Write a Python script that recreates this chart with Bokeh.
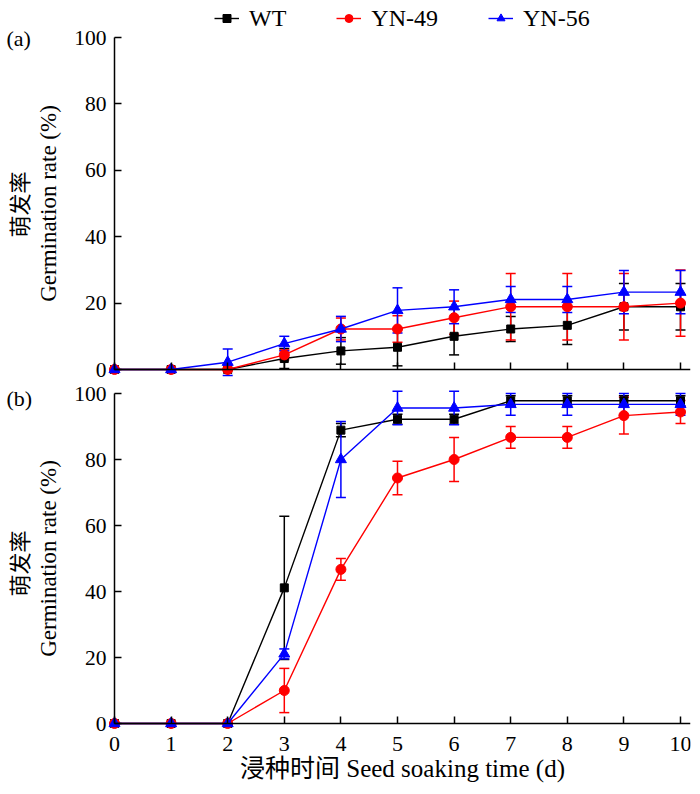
import math
from bokeh.plotting import figure
from bokeh.models import (Range1d, FixedTicker, Legend, LegendItem, Whisker,
                          ColumnDataSource, Label, TeeHead)
from bokeh.layouts import column
from bokeh.embed import file_html
from bokeh.resources import INLINE

# ---------------- data ----------------
days = [0, 1, 2, 3, 4, 5, 6, 7, 8, 9, 10]
series_names = ["WT", "YN-49", "YN-56"]

# (a)
wt_a = [0, 0, 0, 3.3, 5.6, 6.7, 10.0, 12.2, 13.3, 18.9, 18.9]
wt_a_err = [0, 0, 0, 3.0, 4.0, 5.6, 5.6, 3.8, 5.8, 7.0, 7.0]
y49_a = [0, 0, 0, 4.4, 12.2, 12.2, 15.6, 18.9, 18.9, 18.9, 20.0]
y49_a_err = [0, 0, 0, 1.5, 3.3, 4.0, 5.0, 10.0, 10.0, 10.0, 10.0]
y56_a = [0, 0, 2.2, 7.8, 12.2, 17.8, 18.9, 21.1, 21.1, 23.3, 23.3]
y56_a_err = [0, 0, 4.0, 2.2, 3.8, 6.8, 5.1, 3.9, 3.9, 6.5, 6.5]

# (b)
wt_b = [0, 0, 0, 41.1, 88.9, 92.2, 92.2, 97.8, 97.8, 97.8, 97.8]
wt_b_err = [0, 0, 0, 21.7, 2.0, 1.5, 1.5, 1.5, 1.5, 1.5, 1.5]
y49_b = [0, 0, 0, 10.0, 46.7, 74.4, 80.0, 86.7, 86.7, 93.3, 94.4]
y49_b_err = [0, 0, 0, 6.7, 3.3, 5.1, 6.7, 3.3, 3.3, 5.6, 3.5]
y56_b = [0, 0, 0, 21.1, 80.0, 95.6, 95.6, 96.7, 96.7, 96.7, 96.7]
y56_b_err = [0, 0, 0, 1.5, 11.5, 5.1, 5.1, 3.3, 3.3, 3.3, 3.3]

y_ticks = [0, 20, 40, 60, 80, 100]
x_ticks = days
y_label_cn = "萌发率"
y_label_en = "Germination rate (%)"
x_label = "浸种时间 Seed soaking time (d)"

# ---------------- style ----------------
SERIF = "'Liberation Serif', 'Noto Sans CJK SC'"
COLORS = ["#000000", "#ff0000", "#0000ff"]
MARKERS = ["square", "circle", "triangle"]
SIZES = [8, 10, 11]
W = 692
PXD = 56.6            # pixels per day
X0 = 114              # pixel of day 0
X_START = -X0 / PXD
X_END = (690 - X0) / PXD


def make_panel(data, y_start, y_end, height, show_xlabels, tag, tag_y,
               cn_y, legend_loc):
    p = figure(width=W, height=height,
               x_range=Range1d(X_START, X_END), y_range=Range1d(y_start, y_end),
               output_backend="svg", toolbar_location=None,
               min_border_left=0, min_border_right=W - 690,
               min_border_top=0, min_border_bottom=0)
    p.outline_line_color = None
    p.grid.visible = False
    p.background_fill_color = "white"
    p.border_fill_color = "white"

    items = []
    for (ys, errs), name, col, mk, sz in zip(data, series_names, COLORS, MARKERS, SIZES):
        src = ColumnDataSource(dict(
            x=days, y=ys,
            upper=[v + e for v, e in zip(ys, errs)],
            lower=[v - e for v, e in zip(ys, errs)]))
        w = Whisker(source=src, base="x", upper="upper", lower="lower",
                    line_color=col, line_width=1.5,
                    upper_head=TeeHead(size=10, line_color=col, line_width=1.5),
                    lower_head=TeeHead(size=10, line_color=col, line_width=1.5))
        p.add_layout(w)
        ln = p.line("x", "y", source=src, line_color=col, line_width=1.4)
        sc = p.scatter("x", "y", source=src, marker=mk, size=sz,
                       fill_color=col, line_color=col)
        items.append(LegendItem(label=name, renderers=[ln, sc]))

    for ax in (p.xaxis[0], p.yaxis[0]):
        ax.axis_line_width = 1.5
        ax.axis_line_color = "black"
        ax.major_tick_line_width = 1.5
        ax.major_tick_line_color = "black"
        ax.major_tick_in = 7
        ax.major_tick_out = 0
        ax.minor_tick_line_color = None
        ax.major_label_text_font = SERIF
        ax.major_label_text_color = "black"
        ax.axis_label_text_font = SERIF
        ax.axis_label_text_font_style = "normal"
        ax.axis_label_text_color = "black"

    yax = p.yaxis[0]
    yax.ticker = FixedTicker(ticks=y_ticks)
    yax.fixed_location = 0
    yax.bounds = (0, 100)
    yax.major_label_text_font_size = "21.5px"
    yax.major_label_standoff = 8
    yax.axis_label = y_label_en
    yax.axis_label_text_font_size = "23px"
    yax.axis_label_standoff = 10

    xax = p.xaxis[0]
    xax.ticker = FixedTicker(ticks=x_ticks)
    xax.fixed_location = 0
    xax.bounds = (0, X_END)
    xax.major_label_text_font_size = "22px"
    if show_xlabels:
        xax.major_label_standoff = 13
        xax.axis_label = x_label
        xax.axis_label_text_font_size = "25px"
        xax.axis_label_standoff = 1
    else:
        xax.major_label_overrides = {d: "" for d in days}

    # Chinese part of the y-axis title
    p.add_layout(Label(x=(20 - X0) / PXD, y=cn_y, text=y_label_cn,
                       angle=math.pi / 2, text_font=SERIF,
                       text_font_size="22px", text_align="center",
                       text_baseline="middle", text_color="black"))
    # panel tag
    p.add_layout(Label(x=(6 - X0) / PXD, y=tag_y, text=tag, text_font=SERIF,
                       text_font_size="22px", text_baseline="middle",
                       text_align="left", text_color="black"))

    if legend_loc is not None:
        lg = Legend(items=items, orientation="horizontal", location=legend_loc,
                    label_text_font=SERIF, label_text_font_size="24px",
                    label_text_color="black",
                    glyph_width=25, glyph_height=20, label_standoff=10,
                    spacing=50, padding=0, margin=0,
                    border_line_color=None, background_fill_alpha=0)
        p.add_layout(lg)
    return p


# top panel: 0 % at pixel 369, 3.32 px per %, figure rows 0..381
TOP_H = 381
top = make_panel([(wt_a, wt_a_err), (y49_a, y49_a_err), (y56_a, y56_a_err)],
                 y_start=(369 - TOP_H) / 3.32, y_end=369 / 3.32, height=TOP_H,
                 show_xlabels=False, tag="(a)", tag_y=99.7, cn_y=49.7,
                 legend_loc=(214, TOP_H - 4.5 - 27))
# bottom panel: 0 % at pixel 723, 3.3 px per %, figure rows 381..786
BOT_H = 786 - TOP_H
bottom = make_panel([(wt_b, wt_b_err), (y49_b, y49_b_err), (y56_b, y56_b_err)],
                    y_start=(723 - 786) / 3.3, y_end=(723 - TOP_H) / 3.3,
                    height=BOT_H, show_xlabels=True, tag="(b)", tag_y=98.5,
                    cn_y=48.5, legend_loc=None)

layout = column(top, bottom, spacing=0)
open("out.html", "w").write(file_html(layout, INLINE))
